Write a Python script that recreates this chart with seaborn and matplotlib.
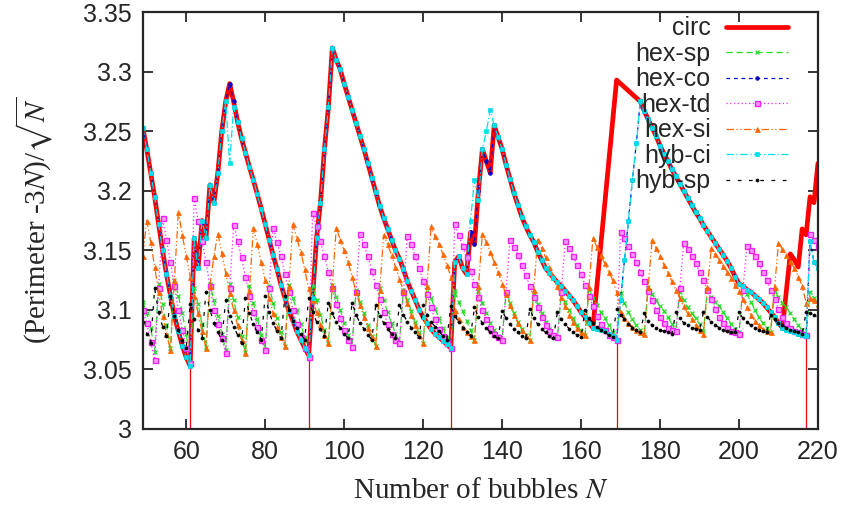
import matplotlib
matplotlib.use("Agg")
import matplotlib.pyplot as plt
import seaborn as sns
import pandas as pd
from matplotlib.ticker import MultipleLocator, FuncFormatter

# each series is a list of (first N, [values at N, N+1, ...])
circ_a = [
    (49, [3.253, 3.235, 3.215, 3.195, 3.172, 3.150, 3.130, 3.112, 3.095, 3.082, 3.070, 3.060, 3.053]),
    (62, [3.160, 3.135, 3.175, 3.160, 3.205, 3.190, 3.215, 3.250, 3.275, 3.290]),
    (72, [3.275, 3.258, 3.244, 3.232, 3.220, 3.209, 3.197, 3.185, 3.172, 3.159, 3.146, 3.134, 3.121,
          3.110, 3.099, 3.091, 3.082, 3.075, 3.068, 3.062]),
    (92, [3.110, 3.160, 3.190, 3.235, 3.270, 3.320]),
    (98, [3.310, 3.302, 3.290, 3.279, 3.268, 3.257, 3.246, 3.235, 3.223, 3.211, 3.199, 3.187, 3.177,
          3.168, 3.159, 3.150, 3.143, 3.134, 3.124, 3.116, 3.108, 3.100, 3.094, 3.089, 3.084, 3.080,
          3.077, 3.074, 3.071, 3.068]),
    (128, [3.140, 3.145, 3.135, 3.130, 3.165, 3.155, 3.200, 3.235, 3.225, 3.215, 3.255]),
    (139, [3.245, 3.235, 3.222, 3.210, 3.198, 3.188, 3.178, 3.170, 3.163, 3.157, 3.149, 3.142, 3.135,
           3.131, 3.127, 3.123, 3.120, 3.116, 3.112, 3.108, 3.103, 3.098, 3.094, 3.089, 3.085]),
]
circ_jump = [(169, [3.293])]
circ_b = [
    (175, [3.275, 3.267, 3.260, 3.253, 3.246, 3.238, 3.231, 3.225, 3.218, 3.212, 3.206, 3.200, 3.194,
           3.188, 3.182, 3.177, 3.171, 3.166, 3.161, 3.156, 3.151, 3.146, 3.141, 3.135, 3.128, 3.122,
           3.120, 3.117, 3.115, 3.112, 3.109, 3.106, 3.102, 3.098, 3.094, 3.089]),
]
circ_c = [(211, [3.085]), (213, [3.147, 3.142, 3.136, 3.168, 3.163, 3.195, 3.190, 3.223])]

co_mid = [(164, [3.084, 3.083, 3.082, 3.080, 3.078, 3.075, 3.108, 3.142, 3.175, 3.209, 3.240])]
co_end = [(211, [3.085, 3.083, 3.082, 3.081, 3.080, 3.079, 3.078, 3.158, 3.140, 3.135])]
ci_diff = {71: 3.223, 72: 3.270, 132: 3.175, 133: 3.209, 134: 3.192, 135: 3.235, 136: 3.250,
           137: 3.268}

hex_sp = [
    (49, [3.107, 3.097, 3.085, 3.065]),
    (53, [3.122, 3.105, 3.087, 3.068]),
    (57, [3.125, 3.112, 3.097, 3.080, 3.056]),
    (62, [3.118, 3.105, 3.088, 3.069]),
    (66, [3.122, 3.108, 3.095, 3.080, 3.066]),
    (71, [3.122, 3.108, 3.094, 3.078, 3.065]),
    (76, [3.120, 3.106, 3.092, 3.079, 3.067]),
    (81, [3.120, 3.106, 3.093, 3.081, 3.070]),
    (86, [3.121, 3.110, 3.100, 3.088, 3.077, 3.062]),
    (92, [3.120, 3.108, 3.096, 3.083, 3.072]),
    (97, [3.121, 3.111, 3.100, 3.089, 3.079, 3.070]),
    (103, [3.117, 3.107, 3.097, 3.087, 3.078, 3.070]),
    (109, [3.118, 3.108, 3.098, 3.089, 3.080, 3.072]),
    (115, [3.117, 3.108, 3.099, 3.090, 3.081, 3.072]),
    (121, [3.119, 3.110, 3.101, 3.093, 3.085, 3.077, 3.068]),
    (128, [3.116, 3.107, 3.099, 3.091, 3.083, 3.075]),
    (134, [3.116, 3.106, 3.097, 3.089, 3.083, 3.078, 3.075]),
    (141, [3.115, 3.106, 3.097, 3.090, 3.084, 3.079, 3.075]),
    (148, [3.114, 3.105, 3.097, 3.090, 3.084, 3.079, 3.076]),
    (155, [3.115, 3.107, 3.100, 3.093, 3.087, 3.082, 3.079]),
    (162, [3.117, 3.110, 3.104, 3.098, 3.093, 3.087, 3.081, 3.075]),
    (170, [3.114, 3.106, 3.098, 3.092, 3.087, 3.083, 3.080]),
    (177, [3.119, 3.113, 3.108, 3.103, 3.099, 3.094, 3.088, 3.082]),
    (185, [3.115, 3.108, 3.102, 3.097, 3.093, 3.088, 3.082]),
    (192, [3.116, 3.111, 3.107, 3.103, 3.098, 3.093, 3.088, 3.084, 3.081]),
    (201, [3.120, 3.113, 3.107, 3.100, 3.094, 3.089, 3.085, 3.081]),
    (209, [3.116, 3.111, 3.106, 3.102, 3.097, 3.092, 3.087, 3.083, 3.079]),
    (218, [3.115, 3.110, 3.105]),
]

hex_td = [
    (49, [3.100, 3.089, 3.073, 3.058]),
    (53, [3.118, 3.177, 3.159, 3.140, 3.120, 3.100, 3.083, 3.068, 3.055]),
    (62, [3.194, 3.175, 3.158, 3.140, 3.120, 3.100, 3.088, 3.076, 3.064]),
    (71, [3.118, 3.171, 3.158, 3.144, 3.128, 3.112, 3.098, 3.086, 3.075, 3.066]),
    (81, [3.118, 3.169, 3.157, 3.145, 3.130, 3.115, 3.100, 3.088, 3.077, 3.068, 3.060]),
    (92, [3.181, 3.170, 3.158, 3.145, 3.132, 3.118, 3.105, 3.093, 3.083, 3.075, 3.069]),
    (103, [3.115, 3.164, 3.155, 3.145, 3.133, 3.121, 3.109, 3.098, 3.088, 3.080, 3.075, 3.072]),
    (115, [3.115, 3.162, 3.155, 3.145, 3.135, 3.124, 3.113, 3.102, 3.092, 3.084, 3.078, 3.072, 3.068]),
    (128, [3.172, 3.163, 3.154, 3.144, 3.133, 3.122, 3.111, 3.100, 3.092, 3.085, 3.080, 3.077, 3.075]),
    (141, [3.115, 3.159, 3.153, 3.146, 3.138, 3.129, 3.120, 3.111, 3.102, 3.094, 3.087, 3.082, 3.079,
           3.077]),
    (155, [3.115, 3.158, 3.152, 3.145, 3.138, 3.130, 3.121, 3.112, 3.103, 3.095, 3.088, 3.083, 3.079,
           3.077, 3.075]),
    (170, [3.165, 3.160, 3.154, 3.147, 3.140, 3.132, 3.124, 3.116, 3.108, 3.100, 3.094, 3.089, 3.085,
           3.083, 3.082]),
    (185, [3.118, 3.156, 3.151, 3.145, 3.139, 3.132, 3.125, 3.117, 3.109, 3.101, 3.094, 3.089, 3.085,
           3.082, 3.081, 3.080]),
    (201, [3.117, 3.154, 3.150, 3.145, 3.139, 3.132, 3.125, 3.117, 3.109, 3.101, 3.094, 3.089, 3.085,
           3.082, 3.081, 3.080, 3.079]),
    (218, [3.164, 3.159, 3.153]),
]

hex_si = [
    (49, [3.145, 3.175, 3.157, 3.136, 3.115, 3.095, 3.080, 3.066]),
    (57, [3.125, 3.182, 3.163, 3.145, 3.128, 3.112, 3.097, 3.082, 3.068]),
    (66, [3.120, 3.145, 3.164, 3.148, 3.131, 3.114, 3.100, 3.087, 3.075, 3.064]),
    (76, [3.117, 3.169, 3.155, 3.140, 3.125, 3.110, 3.097, 3.086, 3.077, 3.070]),
    (86, [3.120, 3.172, 3.160, 3.149, 3.134, 3.118, 3.108, 3.098, 3.088, 3.079, 3.072]),
    (97, [3.120, 3.169, 3.159, 3.150, 3.140, 3.128, 3.115, 3.104, 3.094, 3.085, 3.077, 3.070]),
    (109, [3.117, 3.163, 3.155, 3.146, 3.136, 3.126, 3.116, 3.106, 3.096, 3.087, 3.079, 3.072]),
    (121, [3.120, 3.170, 3.162, 3.155, 3.147, 3.138, 3.128, 3.100, 3.092, 3.086, 3.081, 3.078, 3.075]),
    (134, [3.120, 3.164, 3.157, 3.149, 3.140, 3.132, 3.122, 3.113, 3.104, 3.096, 3.089, 3.083, 3.079,
           3.075]),
    (148, [3.117, 3.159, 3.152, 3.144, 3.136, 3.128, 3.120, 3.111, 3.103, 3.096, 3.090, 3.085, 3.081,
           3.079]),
    (162, [3.119, 3.160, 3.153, 3.146, 3.139, 3.132, 3.125, 3.115, 3.098, 3.093, 3.089, 3.086, 3.083,
           3.081, 3.080]),
    (177, [3.119, 3.159, 3.152, 3.145, 3.138, 3.131, 3.124, 3.117, 3.110, 3.103, 3.097, 3.092, 3.087,
           3.083, 3.080]),
    (192, [3.119, 3.152, 3.147, 3.142, 3.137, 3.132, 3.127, 3.121, 3.116, 3.109, 3.102, 3.096, 3.091,
           3.087, 3.084, 3.082, 3.081]),
    (209, [3.119, 3.156, 3.151, 3.146, 3.141, 3.135, 3.128, 3.120, 3.106, 3.110, 3.108, 3.105]),
]

hyb_sp = [
    (49, [3.090, 3.080, 3.072]),
    (52, [3.118, 3.098, 3.086, 3.078]),
    (56, [3.112, 3.095, 3.083, 3.075, 3.068]),
    (61, [3.105, 3.092, 3.083, 3.076]),
    (65, [3.115, 3.100, 3.089, 3.081, 3.075]),
    (70, [3.108, 3.095, 3.086, 3.079, 3.072]),
    (75, [3.110, 3.097, 3.088, 3.081, 3.075]),
    (80, [3.112, 3.098, 3.089, 3.082, 3.076]),
    (85, [3.112, 3.100, 3.091, 3.085, 3.080, 3.075]),
    (91, [3.110, 3.098, 3.090, 3.084, 3.078]),
    (96, [3.106, 3.097, 3.090, 3.085, 3.080, 3.076]),
    (102, [3.106, 3.096, 3.089, 3.084, 3.079, 3.075]),
    (108, [3.104, 3.095, 3.089, 3.084, 3.080, 3.076]),
    (114, [3.104, 3.096, 3.090, 3.085, 3.081, 3.077]),
    (120, [3.104, 3.096, 3.090, 3.086, 3.082, 3.078, 3.075]),
    (127, [3.103, 3.095, 3.090, 3.085, 3.081, 3.078]),
    (133, [3.102, 3.094, 3.089, 3.085, 3.081, 3.078, 3.076]),
    (140, [3.099, 3.093, 3.088, 3.084, 3.081, 3.078, 3.076]),
    (147, [3.101, 3.093, 3.088, 3.084, 3.081, 3.078, 3.076]),
    (154, [3.098, 3.092, 3.088, 3.084, 3.081, 3.079, 3.077]),
    (161, [3.100, 3.093, 3.089, 3.086, 3.083, 3.081, 3.079, 3.077]),
    (169, [3.101, 3.096, 3.092, 3.088, 3.085, 3.083, 3.081]),
    (176, [3.097, 3.091, 3.087, 3.085, 3.083, 3.082, 3.081, 3.080]),
    (184, [3.098, 3.093, 3.089, 3.087, 3.085, 3.084, 3.083]),
    (191, [3.098, 3.094, 3.090, 3.087, 3.085, 3.083, 3.082, 3.081, 3.081]),
    (200, [3.098, 3.093, 3.090, 3.087, 3.085, 3.083, 3.082, 3.081]),
    (208, [3.096, 3.092, 3.089, 3.087, 3.085, 3.083, 3.082, 3.081, 3.080]),
    (217, [3.098, 3.097, 3.096, 3.095]),
]

# hexagonal numbers, marked by thin red impulses
hex_numbers = [61, 91, 127, 169, 217]
hex_values = [3.053, 3.062, 3.068, 3.075, 3.078]


def expand(segments, fix=None):
    xs, ys = [], []
    for start, vals in segments:
        for i, v in enumerate(vals):
            xs.append(start + i)
            ys.append(v)
    if fix:
        ys = [fix.get(x, y) for x, y in zip(xs, ys)]
    return pd.DataFrame({"N": xs, "val": ys})


circ_df = expand(circ_a + circ_jump + circ_b + circ_c)
co_df = expand(circ_a + co_mid + circ_b + co_end)
ci_df = expand(circ_a + co_mid + circ_b + co_end, ci_diff)

sns.set_style("ticks")
plt.rcParams["font.family"] = ["Liberation Sans", "DejaVu Sans"]
plt.rcParams["mathtext.fontset"] = "stix"

fig = plt.figure(figsize=(8.45, 5.07), dpi=100)
ax = fig.add_axes([0.169, 0.154, 0.799, 0.822])

styles = [
    ("circ", circ_df, dict(color="#ff0000", lw=3.4, ls="-")),
    ("hex-sp", expand(hex_sp), dict(color="#22dd22", lw=0.9, ls=(0, (5, 3)), marker="x", ms=3,
                                    mec="#22dd22", mew=0.9)),
    ("hex-co", co_df, dict(color="#0000cc", lw=0.9, ls=(0, (3, 3)), marker="o", ms=2.6,
                           mec="#0000cc", mew=0.5)),
    ("hex-td", expand(hex_td), dict(color="#ff22ff", lw=0.9, ls=(0, (1, 2)), marker="s", ms=3.6,
                                    mfc="#ff99ff", mec="#ee22ee", mew=1.0)),
    ("hex-si", expand(hex_si), dict(color="#ff6600", lw=0.9, ls=(0, (6, 2, 1, 2, 1, 2)), marker="^",
                                    ms=3.6, mec="#ff6600", mew=0.5)),
    ("hyb-ci", ci_df, dict(color="#00e0e8", lw=0.9, ls=(0, (6, 2, 1, 2)), marker="s", ms=3.2,
                           mec="#00e0e8", mew=0.5)),
    ("hyb-sp", expand(hyb_sp), dict(color="black", lw=0.9, ls=(0, (3, 6)), marker="o", ms=2.2,
                                    mec="black", mew=0.5)),
]

ax.vlines(hex_numbers, 2.9, hex_values, color="#ff0000", lw=0.9, zorder=1)
for name, df, kw in styles:
    sns.lineplot(data=df, x="N", y="val", ax=ax, label=name, estimator=None, sort=False, **kw)

ax.set_xlim(49, 220)
ax.set_ylim(3.0, 3.35)
ax.xaxis.set_major_locator(MultipleLocator(20))
ax.yaxis.set_major_locator(MultipleLocator(0.05))
ax.yaxis.set_major_formatter(FuncFormatter(lambda v, p: "%g" % round(v, 2)))
ax.tick_params(direction="in", top=True, right=True, length=7, width=1.3, labelsize=18, pad=8)
for s in ax.spines.values():
    s.set_linewidth(1.6)

ax.set_xlabel("Number of bubbles $N$", family="Liberation Serif", fontsize=21, labelpad=10)
ax.set_ylabel("(Perimeter -3$N$)/$\\sqrt{N}$", family="Liberation Serif", fontsize=21, labelpad=20)

ax.legend(loc="upper right", bbox_to_anchor=(0.956, 0.99), frameon=False, markerfirst=False,
          fontsize=18, handlelength=2.5, handletextpad=0.6, labelspacing=0.06, borderpad=0,
          borderaxespad=0, numpoints=1)

fig.savefig("out.png", dpi=100)
